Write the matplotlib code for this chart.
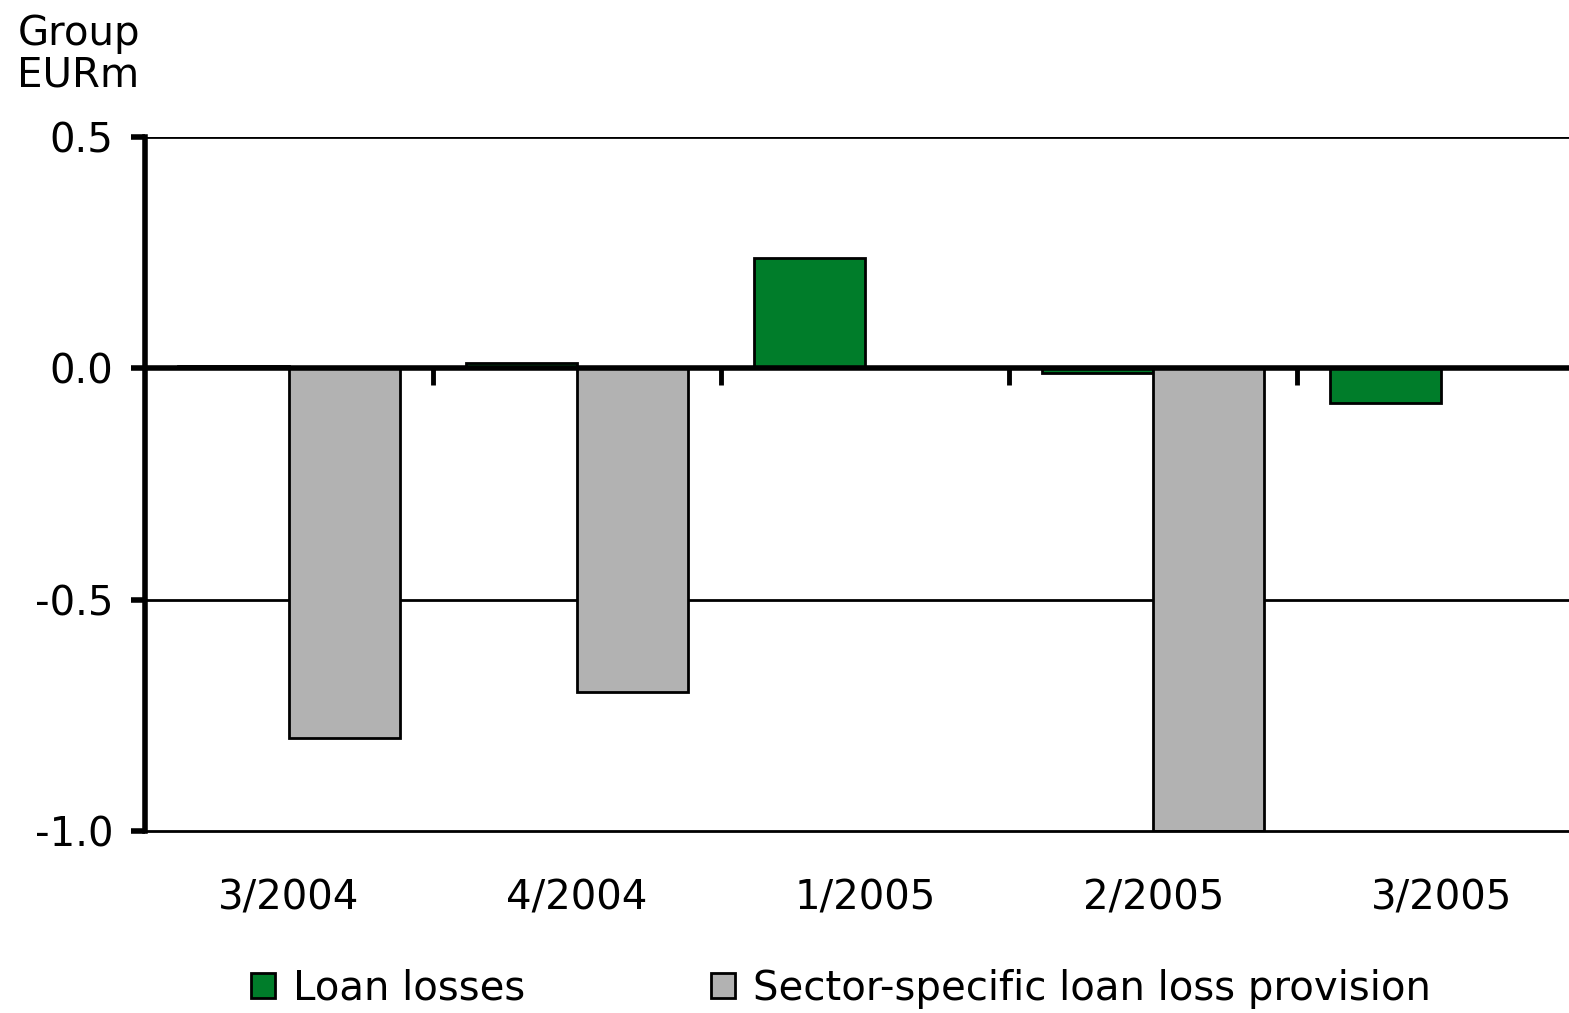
import numpy as np
import matplotlib.pyplot as plt
from matplotlib.markers import TICKDOWN

# Quarterly figures, EUR million
quarters = ['3/2004', '4/2004', '1/2005', '2/2005', '3/2005']
loan_losses = [0.005, 0.012, 0.238, -0.011, -0.074]
sector_provision = [-0.80, -0.70, 0.0, -1.0, 0.0]

GREEN = '#007D2A'
GREY = '#B2B2B2'
FS = 29

plt.rcParams['font.family'] = ['DejaVu Sans']

fig = plt.figure(figsize=(15.69, 10.13), dpi=100)
ax = fig.add_axes([0.0924, 0.1797, 0.918, 0.6851])

x = np.arange(len(quarters))
w = 0.385

ax.bar(x - w / 2, loan_losses, w, color=GREEN, edgecolor='black',
       linewidth=2, label='Loan losses', zorder=2)
ax.bar(x + w / 2, sector_provision, w, color=GREY, edgecolor='black',
       linewidth=2, label='Sector-specific loan loss provision', zorder=2)

ax.set_xlim(-0.5, len(quarters) - 0.5)
ax.set_ylim(-1.0, 0.5)

# horizontal grid / frame lines
ax.set_yticks([0.5, 0.0, -0.5, -1.0])
ax.set_yticklabels(['0.5', '0.0', '-0.5', '-1.0'], fontsize=FS)
for v in [0.5, -0.5]:
    ax.axhline(v, color='black', lw=2, zorder=1)

# heavy zero line with category separators pointing down
ax.axhline(0, color='black', lw=4, zorder=3, solid_capstyle='butt')
ax.plot(x[1:] - 0.5, np.zeros(len(x) - 1), ls='none', marker=TICKDOWN,
        ms=12, mew=3.5, color='black', zorder=3)

for side in ['top', 'right']:
    ax.spines[side].set_visible(False)
ax.spines['left'].set_linewidth(4)
ax.spines['bottom'].set_linewidth(2)

ax.tick_params(axis='y', direction='out', length=10, width=4, pad=13)
ax.set_xticks(x)
ax.set_xticklabels(quarters, fontsize=FS)
ax.tick_params(axis='x', length=0, pad=34)

fig.text(0.011, 0.986, 'Group\nEURm', fontsize=FS, va='top', ha='left',
         linespacing=1.05)

fig.legend(loc='center', bbox_to_anchor=(0.536, 0.024), ncol=2,
           frameon=False, fontsize=FS, handlelength=0.6, handleheight=0.6,
           handletextpad=0.45, columnspacing=4.6)

fig.savefig('out.png', dpi=100)
